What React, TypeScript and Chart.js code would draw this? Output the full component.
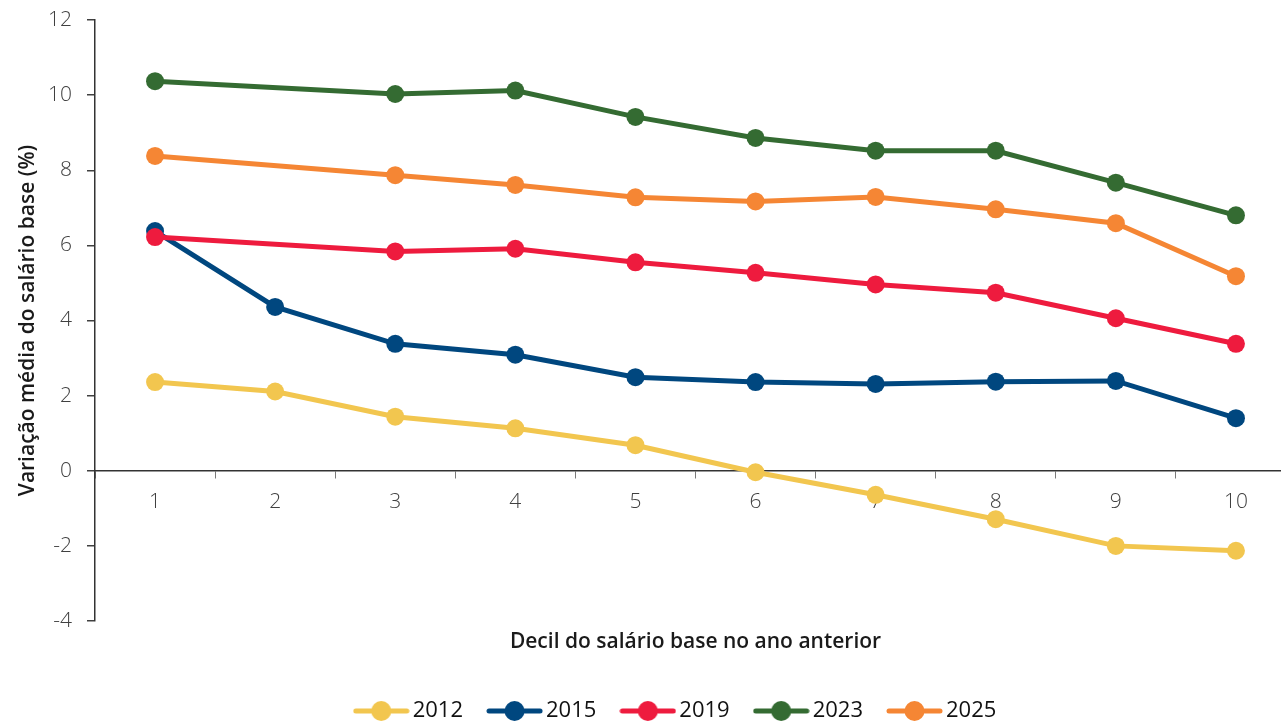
import React, { useEffect, useRef } from 'react';
import { Chart, registerables } from 'chart.js';

Chart.register(...registerables);

// ---- Data ----
const deciles = ['1', '2', '3', '4', '5', '6', '7', '8', '9', '10'];
const seriesNames = ['2012', '2015', '2019', '2023', '2025'];
const v2012 = [2.36, 2.11, 1.44, 1.13, 0.68, -0.04, -0.64, -1.29, -2.0, -2.13];
const v2015 = [6.38, 4.36, 3.38, 3.09, 2.49, 2.36, 2.31, 2.37, 2.39, 1.4];
const v2019 = [6.22, null, 5.84, 5.91, 5.55, 5.27, 4.96, 4.74, 4.06, 3.38];
const v2023 = [10.37, null, 10.03, 10.12, 9.42, 8.86, 8.52, 8.52, 7.67, 6.8];
const v2025 = [8.38, null, 7.87, 7.61, 7.28, 7.17, 7.29, 6.96, 6.59, 5.18];
const seriesValues = [v2012, v2015, v2019, v2023, v2025];
const seriesColors = ['#F2C64F', '#00477F', '#EE1B3E', '#346B32', '#F58634'];
const seriesOrder = [1, 1, 0, 1, 1];

const yMin = -4;
const yMax = 12;
const yStep = 2;

const xTitle = 'Decil do salário base no ano anterior';
const yTitle = 'Variação média do salário base (%)';

const LEGEND_SHIFT = 22;

function makeLegendIcon(color: string): HTMLCanvasElement {
  const c = document.createElement('canvas');
  c.width = 57;
  c.height = 22;
  const ctx = c.getContext('2d')!;
  ctx.strokeStyle = color;
  ctx.lineWidth = 5;
  ctx.lineCap = 'round';
  ctx.beginPath();
  ctx.moveTo(3, 11);
  ctx.lineTo(54, 11);
  ctx.stroke();
  ctx.fillStyle = color;
  ctx.beginPath();
  ctx.arc(28.5, 11, 10, 0, Math.PI * 2);
  ctx.fill();
  return c;
}

const legendShiftPlugin = {
  id: 'legendShift',
  afterLayout(chart: any) {
    const lg = chart.legend;
    if (!lg) return;
    lg.left += LEGEND_SHIFT;
    lg.right += LEGEND_SHIFT;
  },
};

export default function App() {
  const ref = useRef<HTMLCanvasElement | null>(null);

  useEffect(() => {
    if (!ref.current) return;
    Chart.defaults.font.family = "'Open Sans', 'Noto Sans', sans-serif";
    const icons = seriesColors.map((c) => makeLegendIcon(c));

    const chart = new Chart(ref.current, {
      type: 'line',
      data: {
        labels: deciles,
        datasets: seriesNames.map((name, i) => ({
          label: name,
          data: seriesValues[i] as any,
          borderColor: seriesColors[i],
          backgroundColor: seriesColors[i],
          pointBackgroundColor: seriesColors[i],
          pointBorderColor: seriesColors[i],
          pointBorderWidth: 0,
          pointRadius: 9,
          pointHoverRadius: 9,
          borderWidth: 5,
          tension: 0,
          spanGaps: true,
          fill: false,
          order: seriesOrder[i],
        })),
      },
      options: {
        responsive: false,
        animation: false,
        devicePixelRatio: 1,
        layout: { padding: { left: 8, top: 20, right: 0, bottom: -11 } },
        plugins: {
          tooltip: { enabled: false },
          title: {
            display: true,
            text: xTitle,
            position: 'bottom',
            fullSize: false,
            weight: 100,
            color: '#1a1a1a',
            font: { size: 21, weight: '600' },
            padding: { top: 8.4, bottom: 14.4 },
          },
          legend: {
            display: true,
            position: 'bottom',
            align: 'center',
            labels: {
              usePointStyle: true,
              pointStyleWidth: 41,
              padding: 31,
              color: '#111',
              font: { size: 22, weight: '400' },
              sort: (a: any, b: any) => a.datasetIndex - b.datasetIndex,
              generateLabels: (ch: any) => {
                const items = (Chart.defaults.plugins.legend.labels as any).generateLabels(ch);
                items.forEach((it: any) => {
                  it.pointStyle = icons[it.datasetIndex];
                });
                return items;
              },
            },
          },
        },
        scales: {
          x: {
            type: 'category',
            position: { y: 0 } as any,
            offset: true,
            grid: {
              offset: true,
              drawOnChartArea: false,
              drawTicks: true,
              tickLength: 7,
              color: '#7a7a7a',
              lineWidth: 1,
            },
            border: { display: true, color: '#333', width: 1.5 },
            ticks: {
              padding: 12,
              color: '#404040',
              font: { size: 21, weight: '300' },
              autoSkip: false,
              maxRotation: 0,
            },
            afterFit: (scale: any) => {
              scale.paddingLeft = 0;
              scale.paddingRight = 0;
            },
          },
          y: {
            min: yMin,
            max: yMax,
            ticks: {
              stepSize: yStep,
              padding: 15,
              color: '#404040',
              font: { size: 21, weight: '300' },
            },
            grid: {
              drawOnChartArea: false,
              drawTicks: true,
              tickLength: 8,
              color: '#404040',
              lineWidth: 1.5,
            },
            border: { display: true, color: '#333', width: 1.5 },
            title: {
              display: true,
              text: yTitle,
              color: '#1a1a1a',
              font: { size: 21, weight: '600' },
              padding: { top: 7.4, bottom: 0 },
            },
            afterFit: (scale: any) => {
              scale.width = 87;
              scale.paddingTop = 0;
              scale.paddingBottom = 0;
            },
          },
        },
      },
      plugins: [legendShiftPlugin],
    });

    return () => chart.destroy();
  }, []);

  return (
    <div
      style={{
        position: 'absolute',
        left: 0,
        top: 0,
        width: 1281,
        height: 721,
        overflow: 'hidden',
        background: '#fff',
      }}
    >
      <canvas ref={ref} width={1305} height={721} style={{ display: 'block' }} />
    </div>
  );
}
